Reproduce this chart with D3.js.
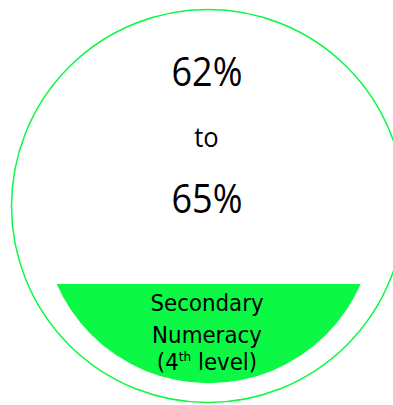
<!DOCTYPE html>
<html>
<head>
<meta charset="utf-8">
<script src="https://cdn.jsdelivr.net/npm/d3@7"></script>
<style>
  html, body { margin: 0; padding: 0; background: #ffffff; }
  svg { display: block; }
</style>
</head>
<body>
<div id="chart"></div>
<script>
// ---- data ----
const rangeValues = [62, 65];          // percentage range shown
const rangeJoiner = "to";
const labelLines = ["Secondary", "Numeracy", "(4", "level)"];
const labelSup = "th";

// ---- layout ----
const W = 393, H = 405;
const green = "#0bf844";
const cx = 208, cy = 206, R = 196.5;

const svg = d3.select("#chart").append("svg")
  .attr("width", W).attr("height", H);

// outer ring
svg.append("circle")
  .attr("cx", cx).attr("cy", cy).attr("r", R)
  .attr("fill", "none").attr("stroke", green).attr("stroke-width", 1.5);

// bottom filled segment
const defs = svg.append("defs");
defs.append("clipPath").attr("id", "seg")
  .append("rect").attr("x", 0).attr("y", 284).attr("width", W).attr("height", H - 284);

svg.append("circle")
  .attr("cx", 208.7).attr("cy", 217.3).attr("r", 166)
  .attr("fill", green).attr("clip-path", "url(#seg)");

// percentage texts
const fmt = d => d3.format("d")(d) + "%";
const big = "'Open Sans', 'Noto Sans', sans-serif";

const yScale = d3.scalePoint().domain([0, 1, 2]).range([85.5, 213]);

function put(x, y, sx, size, family, txt) {
  return svg.append("text")
    .attr("transform", `translate(${x},${y}) scale(${sx},1)`)
    .attr("text-anchor", "middle")
    .attr("font-family", family).attr("font-size", size)
    .attr("fill", "#000")
    .text(txt);
}

put(207, yScale(0), 0.9, 40, big, fmt(rangeValues[0]));
put(206.5, 147, 0.95, 27, big, rangeJoiner);
put(207, yScale(2), 0.9, 40, big, fmt(rangeValues[1]));

// label in segment
const lab = "'DejaVu Sans', sans-serif";
const labelY = [311, 342.5, 370];
const ls = 0.93, lsize = 23;
put(207, labelY[0], ls, lsize, lab, labelLines[0]);
put(207, labelY[1], ls, lsize, lab, labelLines[1]);
const t3 = put(207, labelY[2], ls, lsize, lab, null);
t3.append("tspan").text(labelLines[2]);
t3.append("tspan").attr("font-size", 13).attr("dy", -9).text(labelSup);
t3.append("tspan").attr("dy", 9).text(" " + labelLines[3]);
</script>
</body>
</html>
